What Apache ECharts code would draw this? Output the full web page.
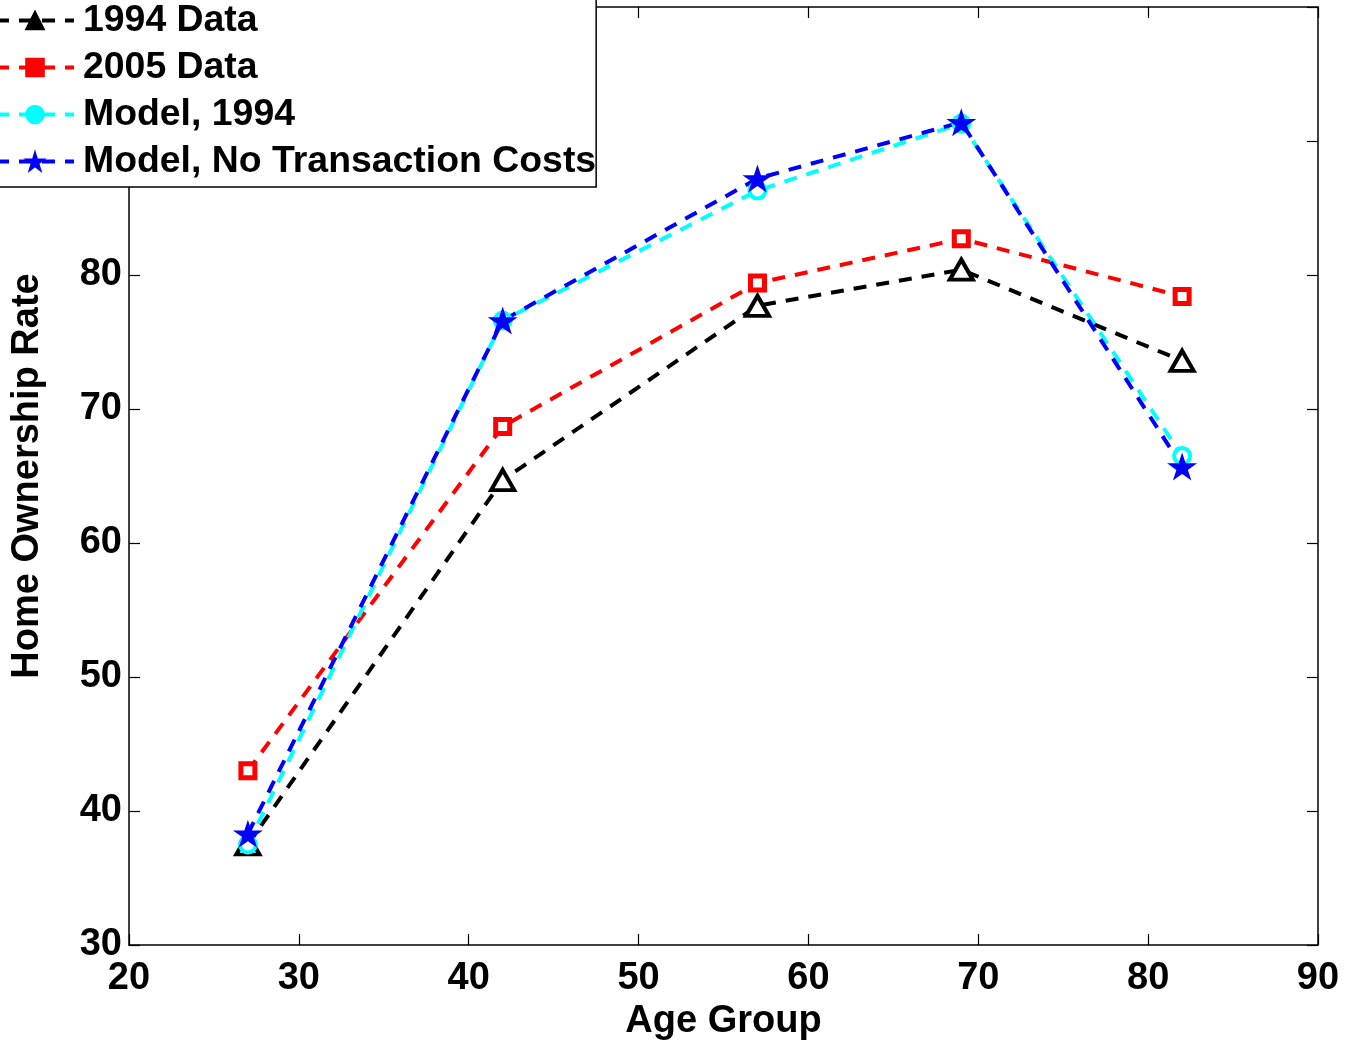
<!DOCTYPE html>
<html>
<head>
<meta charset="utf-8">
<script src="https://cdn.jsdelivr.net/npm/echarts@6/dist/echarts.min.js"></script>
<style>
html,body{margin:0;padding:0;background:#fff;}
#chart{width:1355px;height:1042px;}
</style>
</head>
<body>
<div id="chart"></div>
<script>
const ages = [27, 42, 57, 69, 82];
const data1994 = [37.5, 64.7, 77.7, 80.4, 73.6];
const data2005 = [43.0, 68.7, 79.4, 82.7, 78.4];
const model1994 = [37.5, 76.6, 86.3, 91.3, 66.5];
const modelNoTC = [38.3, 76.6, 87.2, 91.4, 65.7];
const seriesNames = ['1994 Data', '2005 Data', 'Model, 1994', 'Model, No Transaction Costs'];

const FONT = 'Liberation Sans, Arial, sans-serif';
const FS = 38;
const star = 'path://M0,-10 L2.245,-3.09 L9.51,-3.09 L3.633,1.18 L5.88,8.09 L0,3.82 L-5.88,8.09 L-3.633,1.18 L-9.51,-3.09 L-2.245,-3.09 Z';
const pairs = vals => ages.map((a, i) => [a, vals[i]]);
const dash = [13, 10];

const chart = echarts.init(document.getElementById('chart'), null, {renderer: 'canvas'});
const axisCommon = {
  axisLine: {show: true, lineStyle: {color: '#000', width: 1.5}},
  axisTick: {show: true, inside: true, length: 11, lineStyle: {color: '#000', width: 1.2}},
  splitLine: {show: false}
};
const colors = ['#000000', '#ff0000', '#00ffff', '#0000ff'];
chart.setOption({
  animation: false,
  backgroundColor: '#fff',
  grid: {left: 129, right: 37, top: 7, bottom: 97, containLabel: false, outerBoundsMode: 'none'},
  xAxis: [
    Object.assign({}, axisCommon, {
      type: 'value', min: 20, max: 90, interval: 10, position: 'bottom',
      name: 'Age Group', nameLocation: 'middle', nameGap: 51,
      nameTextStyle: {fontFamily: FONT, fontWeight: 'bold', fontSize: FS, color: '#000'},
      axisLabel: {fontFamily: FONT, fontWeight: 'bold', fontSize: FS, color: '#000', margin: 15}
    }),
    Object.assign({}, axisCommon, {
      type: 'value', min: 20, max: 90, interval: 10, position: 'top',
      axisLabel: {show: false}
    })
  ],
  yAxis: [
    Object.assign({}, axisCommon, {
      type: 'value', min: 30, max: 100, interval: 10, position: 'left',
      name: 'Home Ownership Rate', nameLocation: 'middle', nameGap: 82, nameRotate: 90,
      nameTextStyle: {fontFamily: FONT, fontWeight: 'bold', fontSize: FS, color: '#000'},
      axisLabel: {fontFamily: FONT, fontWeight: 'bold', fontSize: FS, color: '#000', margin: 7}
    }),
    Object.assign({}, axisCommon, {
      type: 'value', min: 30, max: 100, interval: 10, position: 'right',
      axisLabel: {show: false}
    })
  ],
  legend: {
    orient: 'vertical', left: -6, top: -3,
    data: seriesNames.map((n, i) => ({name: n, itemStyle: {color: colors[i], borderColor: colors[i]}})),
    itemWidth: 78, itemHeight: 22, itemGap: 10,
    padding: [5, 0, 7, 0],
    backgroundColor: '#fff', borderColor: '#000', borderWidth: 1.5,
    lineStyle: {width: 4},
    itemStyle: {borderWidth: 2},
    textStyle: {fontFamily: FONT, fontWeight: 'bold', fontSize: 37.4, color: '#000', padding: [0, 0, 0, 4], lineHeight: 37},
    selectedMode: false, z: 10
  },
  series: [
    {
      name: seriesNames[0], type: 'line', data: pairs(data1994),
      symbol: 'triangle', symbolSize: [23, 20],
      lineStyle: {color: colors[0], width: 4, type: dash},
      itemStyle: {color: '#fff', borderColor: colors[0], borderWidth: 4}
    },
    {
      name: seriesNames[1], type: 'line', data: pairs(data2005),
      symbol: 'rect', symbolSize: 14,
      lineStyle: {color: colors[1], width: 4, type: dash},
      itemStyle: {color: '#fff', borderColor: colors[1], borderWidth: 5}
    },
    {
      name: seriesNames[2], type: 'line', data: pairs(model1994),
      symbol: 'circle', symbolSize: 16,
      lineStyle: {color: colors[2], width: 4, type: dash},
      itemStyle: {color: '#fff', borderColor: colors[2], borderWidth: 4}
    },
    {
      name: seriesNames[3], type: 'line', data: pairs(modelNoTC),
      symbol: star, symbolSize: [30, 28],
      lineStyle: {color: colors[3], width: 4, type: dash},
      itemStyle: {color: colors[3], borderColor: colors[3], borderWidth: 0}
    }
  ]
});
</script>
</body>
</html>
